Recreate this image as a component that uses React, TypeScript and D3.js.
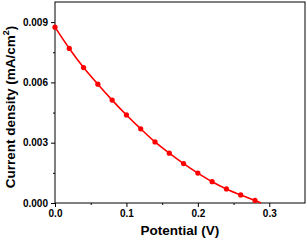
import { useEffect, useRef } from "react";
import * as d3 from "d3";

const potentials = [0, 0.02, 0.04, 0.06, 0.08, 0.1, 0.12, 0.14, 0.16, 0.18, 0.2, 0.22, 0.24, 0.26, 0.28];
const currents = [
  0.00875, 0.00769, 0.00674, 0.00591, 0.00512, 0.00438, 0.00369, 0.00304, 0.00248, 0.00196, 0.00149,
  0.00106, 0.0007, 0.0004, 0.00013,
];
// where the fitted line meets the x axis (no marker drawn there)
const interceptPotential = 0.2885;

const xTicks = [0, 0.1, 0.2, 0.3];
const xMinorTicks = [0.05, 0.15, 0.25];
const yTicks = [0, 0.003, 0.006, 0.009];
const yMinorTicks = [0.0015, 0.0045, 0.0075];

const width = 307;
const height = 240;
const margin = { top: 2, right: 2, bottom: 37, left: 54 };

const App = () => {
  const svgRef = useRef<SVGSVGElement | null>(null);

  useEffect(() => {
    if (!svgRef.current) return;
    const svg = d3.select(svgRef.current);
    svg.selectAll("*").remove();

    const x = d3.scaleLinear().domain([0, 0.35]).range([margin.left + 1, width - margin.right]);
    const y = d3.scaleLinear().domain([0, 0.01]).range([height - margin.bottom, margin.top]);

    const font = "Arial, 'Liberation Sans', sans-serif";

    // frame
    svg
      .append("rect")
      .attr("x", x(0))
      .attr("y", y(0.01))
      .attr("width", x(0.35) - x(0))
      .attr("height", y(0) - y(0.01))
      .attr("fill", "none")
      .attr("stroke", "#000")
      .attr("stroke-width", 1);

    const xAxis = svg
      .append("g")
      .attr("transform", `translate(0,${y(0)})`)
      .call(
        d3
          .axisBottom(x)
          .tickValues(xTicks)
          .tickSize(4)
          .tickPadding(3)
          .tickFormat(d3.format(".1f"))
      );
    xAxis.select(".domain").remove();
    xAxis.selectAll("text").attr("font-size", 10).attr("font-weight", "bold").attr("font-family", font).attr("fill", "#000");

    svg
      .append("g")
      .attr("transform", `translate(0,${y(0)})`)
      .call(d3.axisBottom(x).tickValues(xMinorTicks).tickSize(2).tickFormat(() => ""))
      .select(".domain")
      .remove();

    const yAxis = svg
      .append("g")
      .attr("transform", `translate(${x(0)},0)`)
      .call(
        d3
          .axisLeft(y)
          .tickValues(yTicks)
          .tickSize(4)
          .tickPadding(3)
          .tickFormat(d3.format(".3f"))
      );
    yAxis.select(".domain").remove();
    yAxis.selectAll("text").attr("font-size", 10).attr("font-weight", "bold").attr("font-family", font).attr("fill", "#000");

    svg
      .append("g")
      .attr("transform", `translate(${x(0)},0)`)
      .call(d3.axisLeft(y).tickValues(yMinorTicks).tickSize(2).tickFormat(() => ""))
      .select(".domain")
      .remove();

    // titles
    svg
      .append("text")
      .attr("x", (x(0) + x(0.35)) / 2)
      .attr("y", 235)
      .attr("text-anchor", "middle")
      .attr("font-size", 13.5)
      .attr("font-weight", "bold")
      .attr("font-family", font)
      .text("Potential (V)");

    const yTitle = svg
      .append("text")
      .attr("transform", `translate(15,107) rotate(-90)`)
      .attr("text-anchor", "middle")
      .attr("font-size", 13.5)
      .attr("font-weight", "bold")
      .attr("font-family", font);
    yTitle.append("tspan").text("Current density (mA/cm");
    yTitle.append("tspan").attr("font-size", 9).attr("dy", -6).text("2");
    yTitle.append("tspan").attr("dy", 6).text(")");

    const points = potentials.map((p, i) => [p, currents[i]] as [number, number]);
    const linePoints = [...points, [interceptPotential, 0] as [number, number]];

    const line = d3
      .line<[number, number]>()
      .x((d) => x(d[0]))
      .y((d) => y(d[1]))
      .curve(d3.curveMonotoneX);

    svg
      .append("path")
      .datum(linePoints)
      .attr("d", line)
      .attr("fill", "none")
      .attr("stroke", "#ff0000")
      .attr("stroke-width", 1.6);

    svg
      .selectAll("circle.pt")
      .data(points)
      .enter()
      .append("circle")
      .attr("class", "pt")
      .attr("cx", (d) => x(d[0]))
      .attr("cy", (d) => y(d[1]))
      .attr("r", 2.6)
      .attr("fill", "#ff0000");
  }, []);

  return (
    <svg
      ref={svgRef}
      width={width}
      height={height}
      style={{ position: "absolute", left: 0, top: 0, background: "#fff" }}
    ></svg>
  );
};

export default App;
